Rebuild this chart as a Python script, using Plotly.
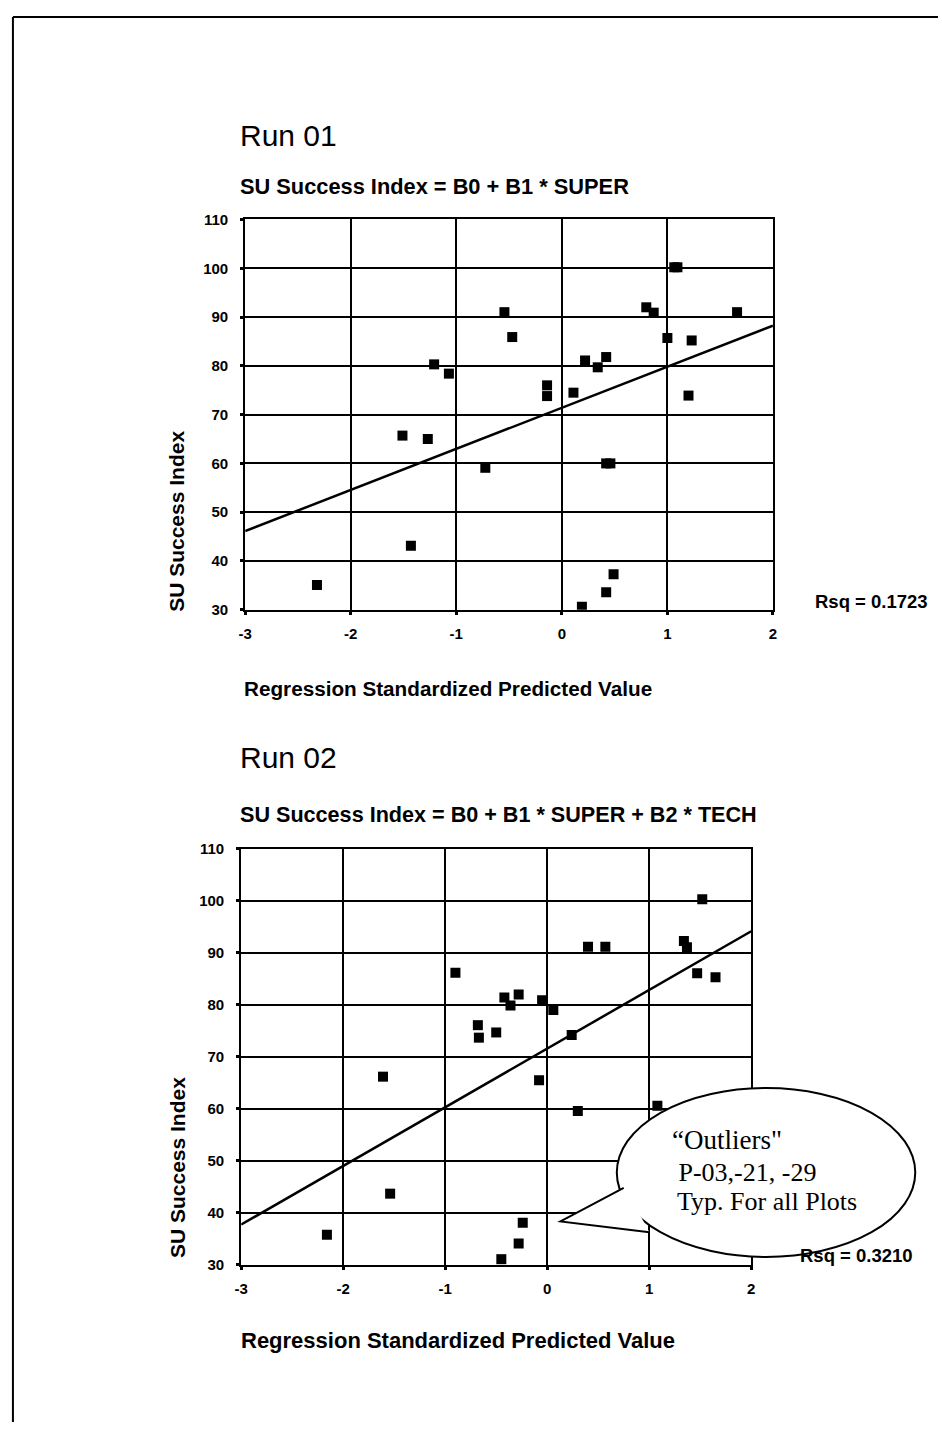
import plotly.graph_objects as go

W, H = 942, 1430

# ---- data -------------------------------------------------------------
run01_x = [-2.32, -1.51, -1.27, -1.21, -1.07, -1.43, -0.725, -0.544, -0.47, -0.14,
           -0.14, 0.11, 0.22, 0.42, 0.34, 0.42, 0.46, 0.49, 0.42, 0.19,
           0.80, 0.87, 1.065, 1.095, 1.00, 1.23, 1.20, 1.66]
run01_y = [35.1, 65.7, 65.0, 80.3, 78.4, 43.1, 59.1, 91.0, 85.9, 76.0,
           73.8, 74.5, 81.1, 81.8, 79.7, 60.0, 60.0, 37.3, 33.6, 30.6,
           92.0, 90.9, 100.2, 100.2, 85.7, 85.2, 73.9, 91.0]
run01_fit = {"b0": 71.4, "b1": 8.42}
run01_rsq = "Rsq = 0.1723"

run02_x = [-2.16, -1.61, -1.54, -0.90, -0.68, -0.67, -0.50, -0.42, -0.36, -0.28,
           -0.05, 0.06, -0.08, 0.24, 0.30, 0.40, 0.57, 1.08, 1.34, 1.37,
           1.47, 1.65, 1.52, -0.24, -0.28, -0.45]
run02_y = [35.8, 66.2, 43.7, 86.2, 76.1, 73.7, 74.7, 81.4, 79.9, 82.0,
           80.9, 79.0, 65.5, 74.2, 59.6, 91.2, 91.2, 60.6, 92.3, 91.1,
           86.1, 85.3, 100.3, 38.1, 34.1, 31.1]
run02_fit = {"b0": 71.6, "b1": 11.28}
run02_rsq = "Rsq = 0.3210"

x_ticks = [-3, -2, -1, 0, 1, 2]
x_tick_labels = ["-3", "-2", "-1", "0", "1", "2"]
y_ticks = [30, 40, 50, 60, 70, 80, 90, 100, 110]
y_tick_labels = ["30", "40", "50", "60", "70", "80", "90", "100", "110"]
x_range = [-3, 2]
y_range = [30, 110]

SANS = "Arial, Liberation Sans, sans-serif"
SERIF = "Times New Roman, Liberation Serif, serif"


def px(x):
    return x / W


def py(y):
    return 1 - y / H


fig = go.Figure()


def add_run(xs, ys, fit, xa, ya):
    fig.add_trace(go.Scatter(
        x=xs, y=ys, mode="markers", xaxis=xa, yaxis=ya,
        marker=dict(symbol="square", size=10, color="black", line=dict(width=0)),
        showlegend=False))
    lx = list(x_range)
    ly = [fit["b0"] + fit["b1"] * v for v in lx]
    fig.add_trace(go.Scatter(
        x=lx, y=ly, mode="lines", xaxis=xa, yaxis=ya,
        line=dict(color="black", width=2.5), showlegend=False))


add_run(run01_x, run01_y, run01_fit, "x", "y")
add_run(run02_x, run02_y, run02_fit, "x2", "y2")

axis_common = dict(
    showline=True, linecolor="black", linewidth=2, mirror=True,
    showgrid=True, gridcolor="black", gridwidth=2, zeroline=False,
    ticks="outside", ticklen=3, tickwidth=3, tickcolor="black",
    tickfont=dict(family=SANS, size=15, color="black", weight="bold"),
)

fig.update_layout(
    width=W, height=H,
    margin=dict(l=0, r=0, t=0, b=0),
    paper_bgcolor="white", plot_bgcolor="white",
    xaxis=dict(domain=[px(241), px(775)], range=x_range, tickvals=x_ticks,
               ticktext=x_tick_labels, anchor="y", ticklabelstandoff=6,
               **axis_common),
    yaxis=dict(domain=[py(608), py(213)], range=y_range, tickvals=y_ticks,
               ticktext=y_tick_labels, anchor="x", ticklabelstandoff=9,
               **axis_common),
    xaxis2=dict(domain=[px(237), px(753)], range=x_range, tickvals=x_ticks,
                ticktext=x_tick_labels, anchor="y2", ticklabelstandoff=6,
                **axis_common),
    yaxis2=dict(domain=[py(1271), py(850)], range=y_range, tickvals=y_ticks,
                ticktext=y_tick_labels, anchor="x2", ticklabelstandoff=9,
                **axis_common),
)


def text(x, y, s, size, family=SANS, bold=False, xanchor="left", angle=0):
    fig.add_annotation(
        x=px(x), y=py(y), xref="paper", yref="paper", text=s, showarrow=False,
        xanchor=xanchor, yanchor="middle", textangle=angle,
        font=dict(family=family, size=size, color="black",
                  weight="bold" if bold else "normal"))


# headings and axis titles, Run 01
text(234, 128, "Run 01", 30)
text(234, 180, "SU Success Index = B0 + B1 * SUPER", 21.8, bold=True)
text(172, 518, "SU Success Index", 21, bold=True, xanchor="center", angle=-90)
text(238, 688, "Regression Standardized Predicted Value", 20.7, bold=True)
text(816, 600, run01_rsq, 18.5, bold=True)

# headings and axis titles, Run 02
text(234, 758, "Run 02", 30)
text(234, 815, "SU Success Index = B0 + B1 * SUPER + B2 * TECH", 21.6, bold=True)
text(172, 1172, "SU Success Index", 21, bold=True, xanchor="center", angle=-90)
text(235, 1348, "Regression Standardized Predicted Value", 22, bold=True)
text(800, 1262, run02_rsq, 18.5, bold=True)

# callout balloon
fig.add_shape(type="circle", xref="paper", yref="paper",
              x0=px(617), x1=px(919), y0=py(1263), y1=py(1092),
              fillcolor="white", line=dict(color="black", width=2), layer="above")
tail = (f"M {px(624)} {py(1193)} L {px(560)} {py(1227)} L {px(650)} {py(1238)}")
fig.add_shape(type="path", xref="paper", yref="paper", path=tail,
              fillcolor="white", line=dict(color="black", width=2), layer="above")
# patch the balloon outline where the tail joins
fig.add_shape(type="path", xref="paper", yref="paper",
              path=f"M {px(626)} {py(1196)} L {px(566)} {py(1226)} L {px(648)} {py(1234)} Z",
              fillcolor="white", line=dict(width=0), layer="above")

text(671, 1145, "\u201cOutliers\"", 27, family=SERIF)
text(671, 1177, " P-03,-21, -29", 26, family=SERIF)
text(676, 1207, "Typ. For all Plots", 26, family=SERIF)

# page frame (top and left edges)
fig.add_shape(type="line", xref="paper", yref="paper",
              x0=px(6), x1=px(942), y0=py(8), y1=py(8),
              line=dict(color="black", width=2))
fig.add_shape(type="line", xref="paper", yref="paper",
              x0=px(6), x1=px(6), y0=py(8), y1=py(1430),
              line=dict(color="black", width=2))

fig.write_html("out.html",
               post_script="document.body.style.margin='0';"
                           "document.body.style.overflow='hidden';")
